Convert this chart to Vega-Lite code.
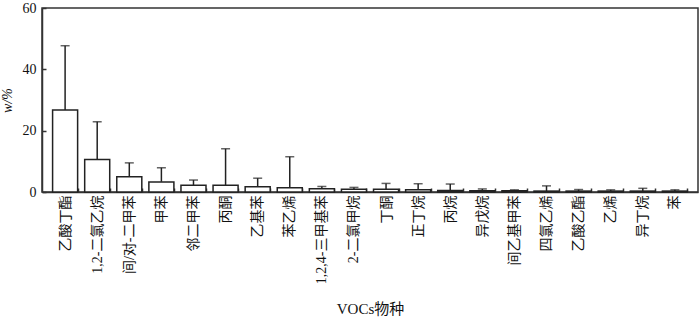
{
  "$schema": "https://vega.github.io/schema/vega-lite/v6.json",
  "width": 656,
  "height": 184,
  "autosize": {"type": "none"},
  "padding": {"left": 42, "top": 8, "right": 2, "bottom": 126},
  "background": "white",
  "config": {
    "view": {"stroke": "#333", "strokeWidth": 1.5},
    "font": "Liberation Serif, Noto Sans CJK SC",
    "axis": {
      "domainColor": "#333",
      "domainWidth": 1.5,
      "tickColor": "#333",
      "tickWidth": 1.5,
      "grid": false,
      "labelColor": "#111",
      "titleColor": "#111",
      "labelFont": "Liberation Serif, Noto Sans CJK SC",
      "titleFont": "Liberation Serif, Noto Sans CJK SC",
      "titleFontWeight": "normal"
    }
  },
  "data": {
    "values": [
      {"species": "乙酸丁酯", "w": 26.7, "upper": 47.7},
      {"species": "1,2-二氯乙烷", "w": 10.6, "upper": 22.9},
      {"species": "间/对-二甲苯", "w": 5.0, "upper": 9.5},
      {"species": "甲苯", "w": 3.3, "upper": 7.9},
      {"species": "邻二甲苯", "w": 2.2, "upper": 3.9},
      {"species": "丙酮", "w": 2.2, "upper": 14.1},
      {"species": "乙基苯", "w": 1.7, "upper": 4.5},
      {"species": "苯乙烯", "w": 1.4, "upper": 11.5},
      {"species": "1,2,4-三甲基苯", "w": 1.1, "upper": 1.8},
      {"species": "2-二氯甲烷", "w": 0.9, "upper": 1.5},
      {"species": "丁酮", "w": 0.9, "upper": 2.8},
      {"species": "正丁烷", "w": 0.7, "upper": 2.7},
      {"species": "丙烷", "w": 0.5, "upper": 2.6},
      {"species": "异戊烷", "w": 0.4, "upper": 1.0},
      {"species": "间乙基甲苯", "w": 0.4, "upper": 0.7},
      {"species": "四氯乙烯", "w": 0.3, "upper": 2.0},
      {"species": "乙酸乙酯", "w": 0.3, "upper": 0.8},
      {"species": "乙烯", "w": 0.3, "upper": 0.7},
      {"species": "异丁烷", "w": 0.3, "upper": 1.2},
      {"species": "苯", "w": 0.3, "upper": 0.7}
    ]
  },
  "encoding": {
    "x": {
      "field": "species",
      "type": "nominal",
      "sort": null,
      "scale": {"paddingInner": 0.22, "paddingOuter": 0.33},
      "axis": {
        "title": "VOCs物种",
        "titleFontSize": 15,
        "titlePadding": 18,
        "labelAngle": -90,
        "labelFontSize": 14,
        "labelPadding": 7,
        "tickBand": "extent",
        "tickSize": -4
      }
    }
  },
  "layer": [
    {
      "mark": {"type": "rule", "color": "#222", "strokeWidth": 1.5},
      "encoding": {
        "y": {"field": "w", "type": "quantitative"},
        "y2": {"field": "upper"}
      }
    },
    {
      "mark": {"type": "tick", "color": "#222", "thickness": 1.5, "size": 9, "orient": "horizontal"},
      "encoding": {
        "y": {"field": "upper", "type": "quantitative"}
      }
    },
    {
      "mark": {"type": "bar", "fill": "white", "stroke": "#222", "strokeWidth": 1.5},
      "encoding": {
        "y": {
          "field": "w",
          "type": "quantitative",
          "scale": {"domain": [0, 60], "nice": false},
          "axis": {
            "title": "w/%",
            "titleFontStyle": "italic",
            "titleFontSize": 14,
            "titlePadding": 8,
            "values": [0, 20, 40, 60],
            "labelFontSize": 14,
            "tickSize": -4,
            "labelPadding": 10
          }
        }
      }
    }
  ]
}
